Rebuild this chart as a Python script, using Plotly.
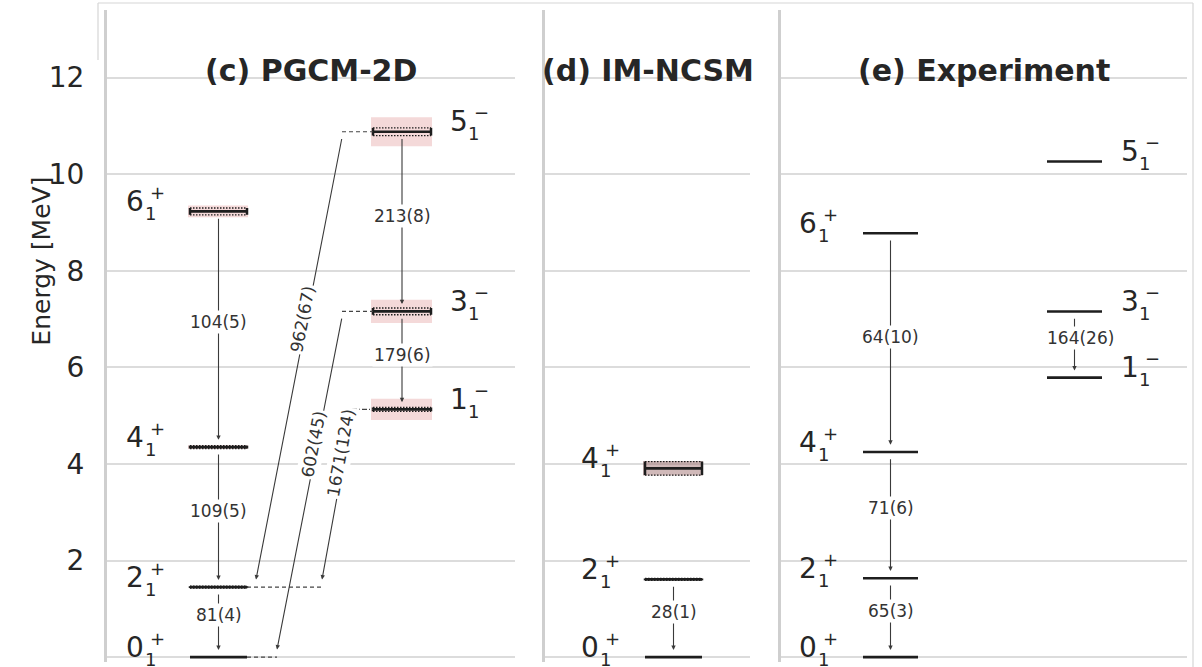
import math
import plotly.graph_objects as go

# ---------------- level energies (MeV) and transition strengths ----------------
# (c) PGCM-2D
pgcm_pos_spins = ["0", "2", "4", "6"]
pgcm_pos_energy = [0.00, 1.45, 4.35, 9.23]
pgcm_pos_spread = [0.00, 0.02, 0.03, 0.07]
pgcm_pos_error = [0.00, 0.00, 0.04, 0.12]

pgcm_neg_spins = ["1", "3", "5"]
pgcm_neg_energy = [5.13, 7.16, 10.88]
pgcm_neg_spread = [0.04, 0.07, 0.08]
pgcm_neg_error = [0.22, 0.24, 0.30]

# in-band transitions, level i -> level i-1
pgcm_pos_b_labels = ["81(4)", "109(5)", "104(5)"]
pgcm_pos_b_label_at = [0.87, 3.02, 6.93]
pgcm_neg_b_labels = ["179(6)", "213(8)"]
pgcm_neg_b_label_at = [6.25, 9.14]

# cross-parity transitions: negative-parity level -> positive-parity level
pgcm_cross_from = [2, 1, 0]
pgcm_cross_to = [1, 0, 1]
pgcm_cross_labels = ["962(67)", "602(45)", "1671(124)"]
pgcm_cross_label_at = [7.00, 4.40, 4.22]

# (d) IM-NCSM
imncsm_spins = ["0", "2", "4"]
imncsm_energy = [0.00, 1.61, 3.91]
imncsm_spread = [0.00, 0.02, 0.14]
imncsm_error = [0.00, 0.00, 0.15]
imncsm_b_labels = ["28(1)"]
imncsm_b_label_at = [0.93]

# (e) Experiment
exp_pos_spins = ["0", "2", "4", "6"]
exp_pos_energy = [0.000, 1.634, 4.248, 8.778]
exp_neg_spins = ["1", "3", "5"]
exp_neg_energy = [5.788, 7.156, 10.262]
exp_pos_b_labels = ["65(3)", "71(6)", "64(10)"]
exp_pos_b_label_at = [0.95, 3.08, 6.62]
exp_neg_b_labels = ["164(26)"]
exp_neg_b_label_at = [6.60]

panel_titles = ["(c) PGCM-2D", "(d) IM-NCSM", "(e) Experiment"]
y_ticks = [0, 2, 4, 6, 8, 10, 12]

# ---------------- geometry ----------------
W, H = 1202, 667
M_TOP, M_BOT = 10, 5
Y_RANGE = [-0.1, 13.4]
PX_PER_MEV = (H - M_TOP - M_BOT) / (Y_RANGE[1] - Y_RANGE[0])
panel_px = [(107, 515), (545, 750), (781, 1187)]

COL_C_POS = (83, 140)
COL_C_NEG = (266, 324)
COL_D = (100, 157)
COL_E_POS = (82, 137)
COL_E_NEG = (266, 321)

# start / end of the slanted cross-parity arrows inside panel (c)
cross_x_start = [235, 235, 245]
cross_x_end = [149, 170, 215]
cross_connector_dash = ["4px,3px", "4px,3px", "5px,2px,1px,2px"]

FONT = "DejaVu Sans"
TXT = "#262626"
LEVEL = "#1e1e1e"
ARROW = "#3a3a3a"
BAND = "rgba(214, 120, 120, 0.28)"
BAND_D = "rgba(150, 100, 100, 0.45)"

fig = go.Figure()
axes = []
for i, (l, r) in enumerate(panel_px):
    n = "" if i == 0 else str(i + 1)
    fig.update_layout(**{
        "xaxis" + n: dict(domain=[l / W, r / W], range=[0, r - l], visible=False,
                          anchor="y" + n, fixedrange=True),
        "yaxis" + n: dict(domain=[0, 1], range=Y_RANGE, anchor="x" + n,
                          showgrid=True, gridcolor="#dcdcdc", gridwidth=1.5,
                          zeroline=False, showline=True, linecolor="#cfcfcf",
                          linewidth=3, tickvals=y_ticks, ticks="",
                          showticklabels=(i == 0), ticklabelstandoff=14,
                          tickfont=dict(size=28, color=TXT, family=FONT),
                          fixedrange=True),
    })
    axes.append(("x" + n, "y" + n))


def seg(ax, xs, ys, color, width, dash=None):
    fig.add_trace(go.Scatter(x=xs, y=ys, mode="lines",
                             line=dict(color=color, width=width, dash=dash),
                             xaxis=ax[0], yaxis=ax[1], hoverinfo="skip",
                             showlegend=False))


def level(ax, col, e, spread=0.0, err=0.0, band=BAND):
    x0, x1 = col
    if err > 0:
        fig.add_shape(type="rect", xref=ax[0], yref=ax[1], x0=x0 - 2, x1=x1 + 1,
                      y0=e - err, y1=e + err, fillcolor=band,
                      line=dict(width=0), layer="between")
    if spread > 0:
        for s in (-spread, spread):
            seg(ax, [x0, x1], [e + s, e + s], LEVEL, 1.3, "1.5px,1.5px")
        for xc in (x0, x1):
            seg(ax, [xc, xc], [e - spread, e + spread], LEVEL, 2.5)
    seg(ax, [x0, x1], [e, e], LEVEL, 2.6)


def level_label(ax, col, e, spin, parity):
    common = dict(xref=ax[0], yref=ax[1], y=e, showarrow=False, yanchor="middle")
    sign = "+" if parity > 0 else "\u2212"
    big = dict(size=28, color=TXT, family=FONT)
    small = dict(size=18, color=TXT, family=FONT)
    if parity > 0:
        x = col[0]
        fig.add_annotation(x=x, text=spin, xanchor="right", xshift=-44, yshift=10,
                           font=big, **common)
        fig.add_annotation(x=x, text="1", xanchor="left", xshift=-47, yshift=-2,
                           font=small, **common)
        fig.add_annotation(x=x, text=sign, xanchor="left", xshift=-42, yshift=19,
                           font=small, **common)
    else:
        x = col[1]
        fig.add_annotation(x=x, text=spin, xanchor="left", xshift=17, yshift=10,
                           font=big, **common)
        fig.add_annotation(x=x, text="1", xanchor="left", xshift=35, yshift=-2,
                           font=small, **common)
        fig.add_annotation(x=x, text=sign, xanchor="left", xshift=41, yshift=19,
                           font=small, **common)


labels_on_top = []


def transition(ax, xs, xe, es, ee, label, label_e, label_dx=0.0, angle=0):
    fig.add_annotation(xref=ax[0], yref=ax[1], axref=ax[0], ayref=ax[1],
                       x=xe, y=ee, ax=xs, ay=es, text="", showarrow=True,
                       arrowhead=2, arrowsize=0.8, arrowwidth=1.1,
                       arrowcolor=ARROW)
    t = (label_e - es) / (ee - es)
    lx = xs + t * (xe - xs) + label_dx
    labels_on_top.append(dict(xref=ax[0], yref=ax[1], x=lx, y=label_e,
                              text=label, showarrow=False, textangle=angle,
                              bgcolor="white", borderpad=1,
                              font=dict(size=17, color="#333333", family=FONT)))


# ---------------- (c) PGCM-2D ----------------
axc = axes[0]
for e, sp, er in zip(pgcm_pos_energy, pgcm_pos_spread, pgcm_pos_error):
    level(axc, COL_C_POS, e, sp, er)
for e, sp, er in zip(pgcm_neg_energy, pgcm_neg_spread, pgcm_neg_error):
    level(axc, COL_C_NEG, e, sp, er)
for s, e in zip(pgcm_pos_spins, pgcm_pos_energy):
    level_label(axc, COL_C_POS, e, s, +1)
for s, e in zip(pgcm_neg_spins, pgcm_neg_energy):
    level_label(axc, COL_C_NEG, e, s, -1)

xc_pos = sum(COL_C_POS) / 2
xc_neg = sum(COL_C_NEG) / 2
for i, (lab, at) in enumerate(zip(pgcm_pos_b_labels, pgcm_pos_b_label_at)):
    transition(axc, xc_pos, xc_pos, pgcm_pos_energy[i + 1] - 0.12,
               pgcm_pos_energy[i] + 0.15, lab, at)
for i, (lab, at) in enumerate(zip(pgcm_neg_b_labels, pgcm_neg_b_label_at)):
    transition(axc, xc_neg, xc_neg, pgcm_neg_energy[i + 1] - 0.12,
               pgcm_neg_energy[i] + 0.15, lab, at)

# dashed connectors on the receiving positive-parity levels
reach = {}
for j, xe in zip(pgcm_cross_to, cross_x_end):
    reach[j] = max(reach.get(j, COL_C_POS[1]), xe)
for j, xe in reach.items():
    e = pgcm_pos_energy[j]
    seg(axc, [COL_C_POS[1], xe], [e, e], "#444444", 1.1, "4px,3px")

for k in range(len(pgcm_cross_labels)):
    eu = pgcm_neg_energy[pgcm_cross_from[k]]
    el = pgcm_pos_energy[pgcm_cross_to[k]]
    xs, xe = cross_x_start[k], cross_x_end[k]
    seg(axc, [xs, COL_C_NEG[0]], [eu, eu], "#444444", 1.1, cross_connector_dash[k])
    es = eu - 0.12
    ee = el + 0.16
    ang = math.degrees(math.atan2((es - ee) * PX_PER_MEV, xs - xe))
    transition(axc, xs, xe, es, ee, pgcm_cross_labels[k], pgcm_cross_label_at[k],
               label_dx=-4, angle=-ang)

# ---------------- (d) IM-NCSM ----------------
axd = axes[1]
for e, sp, er in zip(imncsm_energy, imncsm_spread, imncsm_error):
    level(axd, COL_D, e, sp, er, band=BAND_D)
for s, e in zip(imncsm_spins, imncsm_energy):
    level_label(axd, COL_D, e, s, +1)
xd = sum(COL_D) / 2
for i, (lab, at) in enumerate(zip(imncsm_b_labels, imncsm_b_label_at)):
    transition(axd, xd, xd, imncsm_energy[i + 1] - 0.12, imncsm_energy[i] + 0.15,
               lab, at)

# ---------------- (e) Experiment ----------------
axe = axes[2]
for e in exp_pos_energy:
    level(axe, COL_E_POS, e)
for e in exp_neg_energy:
    level(axe, COL_E_NEG, e)
for s, e in zip(exp_pos_spins, exp_pos_energy):
    level_label(axe, COL_E_POS, e, s, +1)
for s, e in zip(exp_neg_spins, exp_neg_energy):
    level_label(axe, COL_E_NEG, e, s, -1)
xe_pos = sum(COL_E_POS) / 2
xe_neg = sum(COL_E_NEG) / 2
for i, (lab, at) in enumerate(zip(exp_pos_b_labels, exp_pos_b_label_at)):
    transition(axe, xe_pos, xe_pos, exp_pos_energy[i + 1] - 0.12,
               exp_pos_energy[i] + 0.15, lab, at)
for i, (lab, at) in enumerate(zip(exp_neg_b_labels, exp_neg_b_label_at)):
    transition(axe, xe_neg, xe_neg, exp_neg_energy[i + 1] - 0.12,
               exp_neg_energy[i] + 0.15, lab, at, label_dx=6)

for a in labels_on_top:
    fig.add_annotation(**a)

# ---------------- panel titles, axis label, frame ----------------
for (xa, ya), title in zip(axes, panel_titles):
    fig.add_annotation(xref=xa + " domain", yref=ya, x=0.5, y=12.15,
                       text="<b>" + title + "</b>", showarrow=False,
                       font=dict(size=30, color=TXT, family=FONT))

fig.add_annotation(xref="paper", yref="y", x=25 / W, y=8.2, text="Energy [MeV]",
                   textangle=-90, showarrow=False,
                   font=dict(size=25, color=TXT, family=FONT))


def py(p):
    return (H - M_BOT - p) / (H - M_TOP - M_BOT)


frame = dict(color="#d6d6d6", width=1.2)
fig.add_shape(type="line", xref="paper", yref="paper", x0=98 / W, x1=1193 / W,
              y0=py(3), y1=py(3), line=frame)
fig.add_shape(type="line", xref="paper", yref="paper", x0=1193 / W, x1=1193 / W,
              y0=py(3), y1=py(667), line=frame)
fig.add_shape(type="line", xref="paper", yref="paper", x0=98 / W, x1=98 / W,
              y0=py(3), y1=py(60), line=frame)

fig.update_layout(width=W, height=H, margin=dict(l=0, r=0, t=M_TOP, b=M_BOT),
                  paper_bgcolor="white", plot_bgcolor="white", showlegend=False,
                  font=dict(family=FONT, color=TXT))

fig.write_html("out.html")
